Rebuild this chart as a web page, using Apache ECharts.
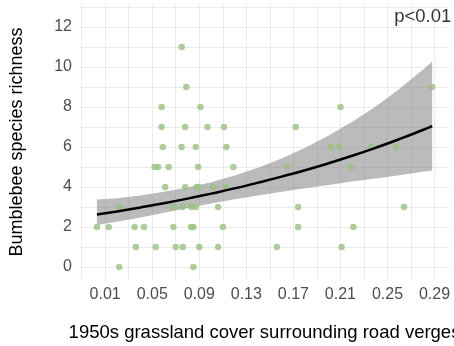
<!DOCTYPE html>
<html>
<head>
<meta charset="utf-8">
<script src="https://cdn.jsdelivr.net/npm/echarts@6/dist/echarts.min.js"></script>
<style>
  html, body { margin: 0; padding: 0; background: #ffffff; }
  #chart { width: 454px; height: 346px; }
</style>
</head>
<body>
<div id="chart"></div>
<script>
// Observations: grassland cover (proportion) and bumblebee species counts
const coverX = [
  0.022, 0.085,
  0.036, 0.053, 0.070, 0.076, 0.090, 0.106, 0.156, 0.211,
  0.003, 0.013, 0.035, 0.043, 0.068, 0.083, 0.085, 0.110, 0.174, 0.221,
  0.022, 0.068, 0.076, 0.083, 0.087, 0.106, 0.174, 0.264,
  0.061, 0.078, 0.088, 0.089, 0.102, 0.113,
  0.052, 0.055, 0.064, 0.089, 0.119, 0.165, 0.219,
  0.059, 0.075, 0.087, 0.113, 0.202, 0.209, 0.236, 0.257,
  0.058, 0.078, 0.097, 0.111, 0.172,
  0.058, 0.091, 0.210,
  0.079, 0.288,
  0.075
];
const richness = [
  0, 0,
  1, 1, 1, 1, 1, 1, 1, 1,
  2, 2, 2, 2, 2, 2, 2, 2, 2, 2,
  3, 3, 3, 3, 3, 3, 3, 3,
  4, 4, 4, 4, 4, 4,
  5, 5, 5, 5, 5, 5, 5,
  6, 6, 6, 6, 6, 6, 6, 6,
  7, 7, 7, 7, 7,
  8, 8, 8,
  9, 9,
  11
];

// Fitted trend with its confidence band
const fitX   = [0.003, 0.02, 0.04, 0.06, 0.08, 0.10, 0.12, 0.14, 0.16, 0.18, 0.20, 0.22, 0.24, 0.26, 0.28, 0.288];
const fitY   = [2.62, 2.78, 2.98, 3.19, 3.42, 3.67, 3.93, 4.22, 4.52, 4.84, 5.19, 5.56, 5.96, 6.39, 6.85, 7.04];
const ciLow  = [2.10, 2.26, 2.48, 2.71, 2.95, 3.17, 3.39, 3.58, 3.76, 3.94, 4.10, 4.27, 4.43, 4.59, 4.76, 4.83];
const ciHigh = [3.38, 3.44, 3.58, 3.76, 3.98, 4.24, 4.57, 4.96, 5.42, 5.96, 6.57, 7.26, 8.03, 8.90, 9.86, 10.28];

// Axis ticks
const xLabelTicks = [0.01, 0.05, 0.09, 0.13, 0.17, 0.21, 0.25, 0.29];
const xGridTicks = [-0.01, 0.01, 0.03, 0.05, 0.07, 0.09, 0.11, 0.13, 0.15, 0.17, 0.19, 0.21, 0.23, 0.25, 0.27, 0.29];
const yLabelTicks = [0, 2, 4, 6, 8, 10, 12];
const yGridTicks = [0, 1, 2, 3, 4, 5, 6, 7, 8, 9, 10, 11, 12, 13];

// Significance note
const noteText = 'p<0.01';
const notePos = [0.28, 12.5];

const FONT = "'Liberation Sans', Arial, Helvetica, sans-serif";

const chart = echarts.init(document.getElementById('chart'), null, { renderer: 'canvas' });

const points = coverX.map((x, i) => [x, richness[i]]);
const trend = fitX.map((x, i) => [x, fitY[i]]);

// Confidence band drawn as one polygon: upper edge left→right, lower edge right→left
function renderBand(params, api) {
  const pts = [];
  for (let i = 0; i < fitX.length; i++) pts.push(api.coord([fitX[i], ciHigh[i]]));
  for (let i = fitX.length - 1; i >= 0; i--) pts.push(api.coord([fitX[i], ciLow[i]]));
  return {
    type: 'polygon',
    shape: { points: pts },
    style: { fill: 'rgba(120,120,120,0.5)' },
    silent: true
  };
}

const gridLine = { show: true, lineStyle: { color: '#ebebeb', width: 1 } };

chart.setOption({
  animation: false,
  backgroundColor: '#ffffff',
  textStyle: { fontFamily: FONT },
  grid: { left: 80, right: 5, top: 4.5, bottom: 66.5, containLabel: false, outerBoundsMode: 'none' },
  xAxis: {
    type: 'value',
    min: -0.0114,
    max: 0.3023,
    name: '1950s grassland cover surrounding road verges',
    nameLocation: 'middle',
    nameGap: 44,
    nameTextStyle: { fontSize: 18.5, color: '#000000', fontFamily: FONT },
    axisLine: { show: false },
    axisTick: { show: false, customValues: xGridTicks },
    splitLine: gridLine,
    axisLabel: {
      customValues: xLabelTicks,
      formatter: v => v.toFixed(2),
      fontSize: 16,
      color: '#4d4d4d',
      margin: 7,
      fontFamily: FONT
    }
  },
  yAxis: {
    type: 'value',
    min: -0.625,
    max: 13.125,
    name: 'Bumblebee species richness',
    nameLocation: 'middle',
    nameRotate: 90,
    nameGap: 54,
    nameTextStyle: { fontSize: 18, color: '#000000', fontFamily: FONT },
    axisLine: { show: false },
    axisTick: { show: false, customValues: yGridTicks },
    splitLine: gridLine,
    axisLabel: {
      customValues: yLabelTicks,
      fontSize: 16,
      color: '#4d4d4d',
      margin: 8,
      fontFamily: FONT
    }
  },
  series: [
    {
      name: 'sites',
      type: 'scatter',
      data: points,
      symbol: 'circle',
      symbolSize: 6.5,
      itemStyle: { color: '#97c37f' },
      silent: true
    },
    {
      name: 'ci-band',
      type: 'custom',
      renderItem: renderBand,
      data: [0],
      silent: true
    },
    {
      name: 'trend',
      type: 'line',
      data: trend,
      smooth: true,
      symbol: 'none',
      lineStyle: { color: '#000000', width: 2.5 },
      silent: true
    },
    {
      name: 'note',
      type: 'scatter',
      data: [notePos],
      symbolSize: 0,
      silent: true,
      label: {
        show: true,
        position: 'inside',
        formatter: noteText,
        fontSize: 18.5,
        color: '#000000',
        fontFamily: FONT
      }
    }
  ]
});
</script>
</body>
</html>
